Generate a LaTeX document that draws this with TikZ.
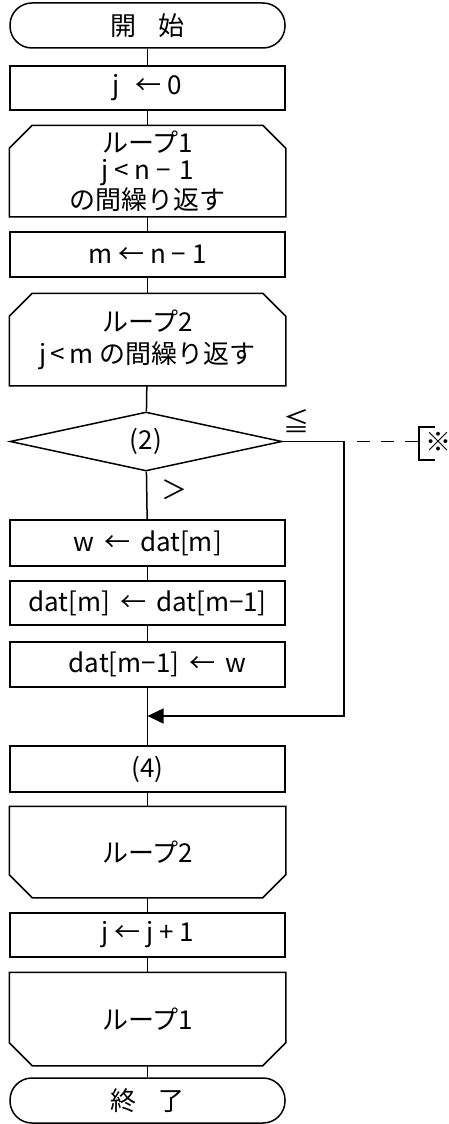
\documentclass[tikz,border=0pt]{standalone}
\usepackage{fontspec}
\newfontfamily\jp{Noto Sans CJK JP}
\usetikzlibrary{shapes.geometric,arrows.meta,calc}
\newcommand\gapsp{\hspace{10pt}}
\begin{document}
\begin{tikzpicture}[x=1pt,y=-1pt,
  every node/.style={font=\jp\fontsize{26}{30}\selectfont},
  box/.style={draw, line width=1.5pt, minimum width=275pt, inner sep=0pt, align=center},
  term/.style={box, rounded corners=22pt},
  loopshape/.style={box, draw=none},
  decision/.style={draw, diamond, line width=1.5pt, minimum width=272pt, minimum height=59pt, inner sep=0pt},
  conn/.style={line width=1.5pt},
  ]
\useasboundingbox (0,0) rectangle (449,1124);
\newcommand\loopTop[1]{\draw[conn] (#1.south west) -- ($(#1.north west)+(0,23)$) -- ($(#1.north west)+(23,0)$) -- ($(#1.north east)+(-23,0)$) -- ($(#1.north east)+(0,23)$) -- (#1.south east) -- cycle;}
\newcommand\loopBot[1]{\draw[conn] (#1.north west) -- ($(#1.south west)+(0,-23)$) -- ($(#1.south west)+(23,0)$) -- ($(#1.south east)+(-23,0)$) -- ($(#1.south east)+(0,-23)$) -- (#1.north east) -- cycle;}

\node[term, minimum height=45pt] (start) at (147.5,25.5) {開\hspace{22pt}始};
\node[box, minimum height=44pt] (b1) at (147.5,88) {j\hspace{16pt}←\hspace{6pt}0};
\node[loopshape, minimum height=90pt, font=\jp\fontsize{26}{27.5}\selectfont] (l1s) at (147.5,171) {ループ1\\j\hspace{6pt}<\hspace{6pt}n\hspace{6pt}−\hspace{8pt}1\\の間繰り返す};
\loopTop{l1s}
\node[box, minimum height=45pt] (b2) at (147.5,254.5) {m ← n − 1};
\node[loopshape, minimum height=91pt, font=\jp\fontsize{26}{32}\selectfont] (l2s) at (147.5,339.5) {ループ2\\j\hspace{4pt}<\hspace{4pt}m の間繰り返す};
\loopTop{l2s}
\node[decision] (dia) at (146,441.5) {(2)};
\node[box, minimum height=46pt] (b3) at (147.5,543) {w\gapsp ←\gapsp dat[m]};
\node[box, minimum height=44pt] (b4) at (147.5,603) {dat[m]\gapsp ←\gapsp dat[m−1]};
\node[box, minimum height=45pt] (b5) at (147.5,664.5) {\hspace*{20pt}dat[m−1]\gapsp ←\gapsp w};
\node[box, minimum height=46pt] (b6) at (147.5,769) {(4)};
\node[loopshape, minimum height=90pt] (l2e) at (147.5,852) {ループ2};
\loopBot{l2e}
\node[box, minimum height=44pt] (b7) at (147.5,935) {j ← j + 1};
\node[loopshape, minimum height=92pt] (l1e) at (147.5,1019) {ループ1};
\loopBot{l1e}
\node[term, minimum height=45pt] (end) at (147.5,1100.5) {終\hspace{22pt}了};

\node (le) at (296,421) {≦};
\node (gt) at (174,490) {＞};
\node (note) at (438,442) {※};

\coordinate (r1) at (344,441.5);
\coordinate (merge) at (147.5,716);
\coordinate (d1) at (357,441.5);
\coordinate (d2) at (419,441.5);
\coordinate (bt) at (419,427);
\coordinate (bb) at (419,460);
\coordinate (bt2) at (435,427);
\coordinate (bb2) at (435,460);

\draw[conn] (start) -- (b1);
\draw[conn] (b1) -- (l1s);
\draw[conn] (l1s) -- (b2);
\draw[conn] (b2) -- (l2s);
\draw[conn] (l2s) -- (dia);
\draw[conn] (dia) -- (b3);
\draw[conn] (b3) -- (b4);
\draw[conn] (b4) -- (b5);
\draw[conn] (b5) -- (b6);
\draw[conn] (b6) -- (l2e);
\draw[conn] (l2e) -- (b7);
\draw[conn] (b7) -- (l1e);
\draw[conn] (l1e) -- (end);
\draw[conn, -{Triangle[length=16pt,width=15pt]}] (dia.east) -- (r1) |- (merge);
\draw[conn, dash pattern=on 13pt off 11pt] (d1) -- (d2);
\draw[conn] (bt2) -- (bt) -- (bb) -- (bb2);
\end{tikzpicture}
\end{document}
